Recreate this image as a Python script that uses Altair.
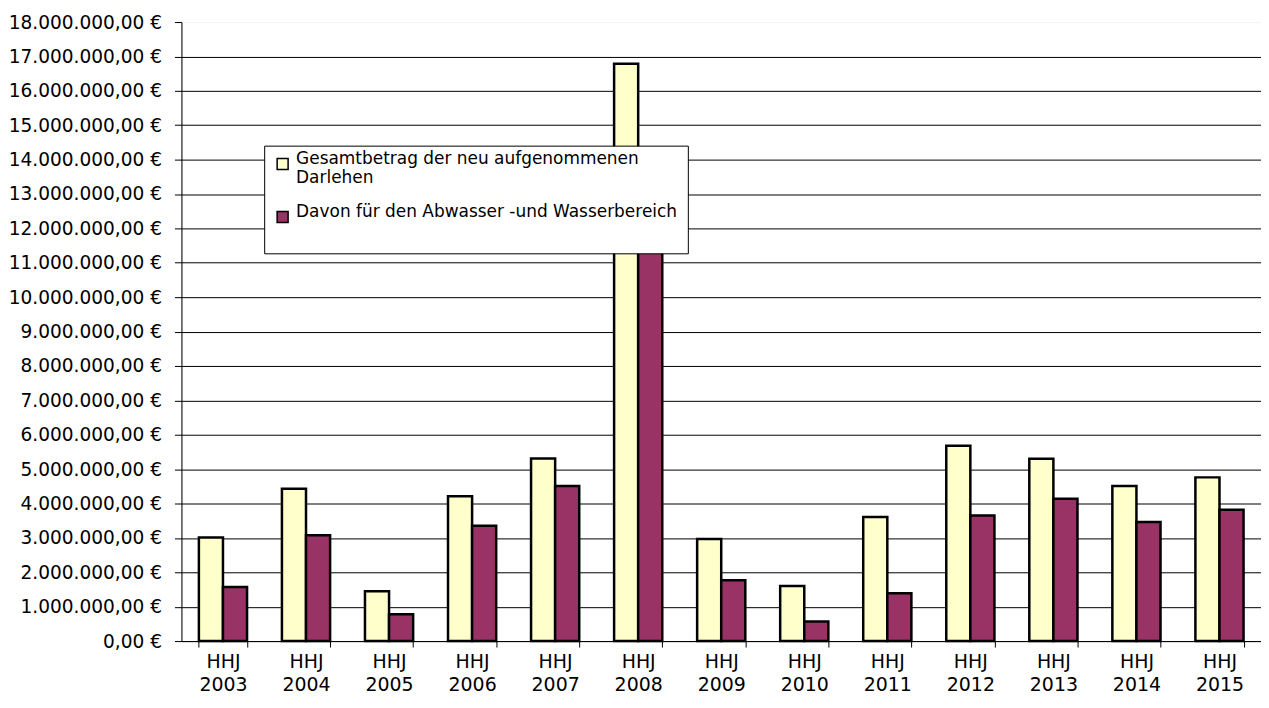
import altair as alt
import pandas as pd

categories = ["HHJ 2003", "HHJ 2004", "HHJ 2005", "HHJ 2006", "HHJ 2007", "HHJ 2008", "HHJ 2009",
              "HHJ 2010", "HHJ 2011", "HHJ 2012", "HHJ 2013", "HHJ 2014", "HHJ 2015"]
gesamt = [3010000, 4430000, 1450000, 4210000, 5310000, 16790000, 2970000,
          1600000, 3610000, 5680000, 5300000, 4510000, 4760000]
abwasser = [1570000, 3080000, 780000, 3350000, 4510000, 12500000, 1770000,
            570000, 1390000, 3650000, 4140000, 3460000, 3820000]
series = ["Gesamtbetrag der neu aufgenommenen Darlehen",
          "Davon für den Abwasser -und Wasserbereich"]
colors = ["#FFFFCC", "#993366"]
y_ticks = [i * 1000000 for i in range(0, 19)]

rows = []
for c, g, a in zip(categories, gesamt, abwasser):
    rows.append({"Jahr": c, "Serie": series[0], "Wert": g})
    rows.append({"Jahr": c, "Serie": series[1], "Wert": a})
df = pd.DataFrame(rows)

FONT = "DejaVu Sans"
legend_pad_title = "\u00a0" * 77

chart = alt.Chart(df).mark_bar(stroke="black", strokeWidth=2.5, strokeJoin="miter").encode(
    x=alt.X("Jahr:N", sort=categories, title=None,
            scale=alt.Scale(paddingInner=0.42, paddingOuter=0.21),
            axis=alt.Axis(labelAngle=0,
                          labelExpr="isValid(datum.value) ? split(datum.value, ' ') : ''",
                          labelFont=FONT, labelFontSize=19, labelColor="black",
                          labelLineHeight=23, labelPadding=6,
                          tickBand="extent", tickColor="black", tickSize=6,
                          domainColor="black", domainWidth=1)),
    xOffset=alt.XOffset("Serie:N", sort=series),
    y=alt.Y("Wert:Q", title=None,
            scale=alt.Scale(domain=[0, 18000000], nice=False),
            axis=alt.Axis(values=y_ticks,
                          labelExpr="replace(format(datum.value, ','), regexp(',', 'g'), '.') + ',00 €'",
                          labelFont=FONT, labelFontSize=18.6, labelColor="black",
                          labelPadding=13, tickColor="black", tickSize=7,
                          domainColor="black", domainWidth=1,
                          grid=True, gridWidth=1,
                          gridColor={"condition": {"test": "datum.value >= 18000000", "value": "#f4f4f4"},
                                     "value": "black"})),
    color=alt.Color("Serie:N", sort=series,
                    scale=alt.Scale(domain=series, range=colors),
                    legend=alt.Legend(orient="none", legendX=83, legendY=124,
                                      title=legend_pad_title, titleOrient="bottom",
                                      titleFontSize=17, titleFont=FONT, titleLimit=1000,
                                      titlePadding=2,
                                      fillColor="white", strokeColor="black",
                                      padding=10, symbolType="square", symbolSize=121,
                                      symbolStrokeColor="black", symbolStrokeWidth=1.5,
                                      labelFont=FONT, labelFontSize=17, labelColor="black",
                                      labelBaseline="alphabetic", labelLimit=500,
                                      labelOffset=5, rowPadding=16,
                                      labelExpr="datum.label == 'Gesamtbetrag der neu aufgenommenen Darlehen' ? ['Gesamtbetrag der neu aufgenommenen', 'Darlehen'] : datum.label")),
).properties(
    width=1083, height=621,
    autosize=alt.AutoSizeParams(type="none"),
    padding={"left": 174, "top": 13, "right": 0, "bottom": 53},
).configure_view(strokeWidth=0).configure(font=FONT)

chart.save("out.html", embed_options={"renderer": "svg", "actions": False})
